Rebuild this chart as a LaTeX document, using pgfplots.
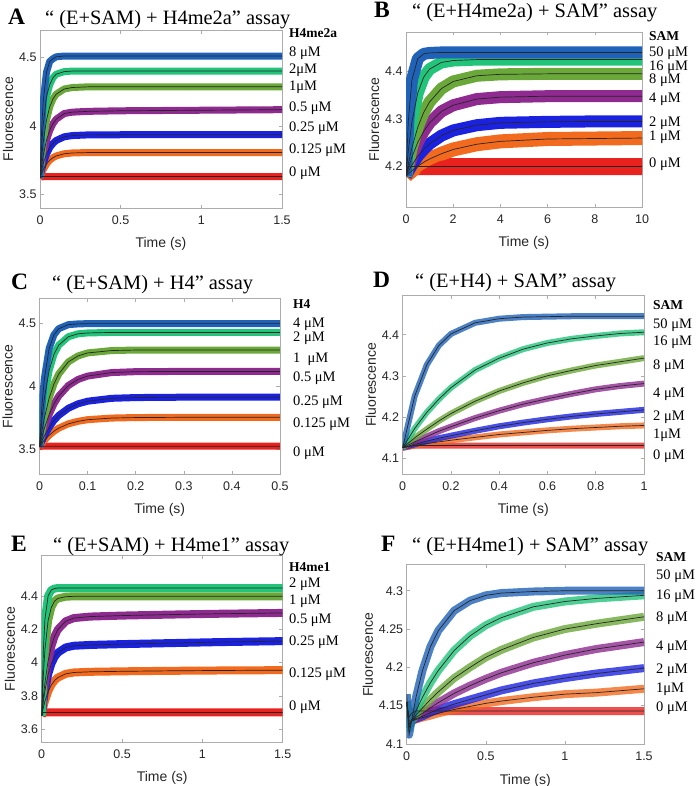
\documentclass[border=0pt]{standalone}
\usepackage{fontspec}
\setmainfont{Liberation Serif}
\setsansfont{Liberation Sans}
\usepackage{pgfplots}
\usepackage{pgfplotstable}
\pgfplotsset{compat=1.18}

\definecolor{cA}{HTML}{E8231F}
\definecolor{cB}{HTML}{F26A1E}
\definecolor{cC}{HTML}{1A22E0}
\definecolor{cD}{HTML}{8E2A90}
\definecolor{cE}{HTML}{6AA83A}
\definecolor{cF}{HTML}{22C47A}
\definecolor{cG}{HTML}{1F62B8}
\definecolor{tk}{HTML}{262626}

\pgfplotstableread{
t c0 c1 c2 c3 c4 c5 c6
0 3.62 3.62 3.62 3.62 3.62 3.62 3.62
0.01 3.63 3.653 3.677 3.710 3.768 3.85 3.97
0.02 3.63 3.680 3.724 3.784 3.882 4.01 4.18
0.04 3.63 3.721 3.794 3.893 4.041 4.21 4.39
0.06 3.63 3.749 3.841 3.967 4.138 4.30 4.47
0.08 3.63 3.767 3.871 4.015 4.196 4.35 4.49
0.1 3.63 3.780 3.893 4.048 4.231 4.377 4.504
0.15 3.63 3.796 3.920 4.090 4.269 4.396 4.51
0.2 3.63 3.802 3.929 4.100 4.280 4.40 4.51
0.3 3.63 3.805 3.934 4.106 4.285 4.40 4.51
0.5 3.63 3.805 3.935 4.110 4.285 4.40 4.51
1.0 3.63 3.805 3.935 4.114 4.285 4.40 4.51
1.5 3.63 3.805 3.935 4.118 4.285 4.40 4.51
}\tA

\pgfplotstableread{
t c0 c1 c2 c3 c4 c5 c6
0 4.18 4.18 4.18 4.18 4.18 4.18 4.18
0.1 4.20 4.185 4.190 4.197 4.206 4.234 4.297
0.25 4.20 4.191 4.203 4.220 4.240 4.294 4.382
0.5 4.20 4.201 4.222 4.251 4.283 4.355 4.427
0.75 4.20 4.209 4.236 4.274 4.314 4.388 4.437
1 4.20 4.216 4.248 4.292 4.336 4.405 4.439
1.5 4.20 4.227 4.265 4.316 4.364 4.419 4.44
2 4.20 4.236 4.276 4.329 4.379 4.423 4.44
3 4.20 4.247 4.287 4.342 4.391 4.425 4.44
4 4.20 4.253 4.292 4.346 4.394 4.425 4.44
6 4.20 4.258 4.294 4.348 4.395 4.425 4.44
8 4.20 4.259 4.295 4.348 4.395 4.425 4.44
10 4.20 4.26 4.295 4.348 4.395 4.425 4.44
}\tB

\pgfplotstableread{
t c0 c1 c2 c3 c4 c5 c6
0 3.52 3.52 3.52 3.52 3.52 3.52 3.52
0.005 3.525 3.548 3.567 3.599 3.644 3.738 3.843
0.01 3.525 3.572 3.607 3.666 3.747 3.905 4.060
0.02 3.525 3.612 3.675 3.777 3.907 4.127 4.302
0.03 3.525 3.644 3.729 3.861 4.020 4.255 4.411
0.04 3.525 3.669 3.770 3.924 4.100 4.329 4.460
0.06 3.525 3.703 3.827 4.008 4.196 4.396 4.492
0.08 3.525 3.723 3.862 4.056 4.243 4.419 4.498
0.1 3.525 3.736 3.883 4.083 4.267 4.426 4.50
0.15 3.525 3.749 3.906 4.111 4.286 4.43 4.50
0.2 3.525 3.753 3.912 4.118 4.29 4.43 4.50
0.3 3.525 3.755 3.915 4.12 4.29 4.43 4.50
0.5 3.525 3.755 3.915 4.12 4.29 4.43 4.50
}\tC

\pgfplotstableread{
t c0 c1 c2 c3 c4 c5 c6
0 4.125 4.125 4.125 4.125 4.125 4.125 4.125
0.05 4.13 4.130 4.133 4.139 4.149 4.172 4.251
0.1 4.13 4.135 4.141 4.152 4.170 4.211 4.327
0.15 4.13 4.139 4.148 4.165 4.190 4.243 4.374
0.2 4.13 4.143 4.154 4.176 4.208 4.271 4.402
0.3 4.13 4.150 4.166 4.197 4.238 4.314 4.429
0.4 4.13 4.157 4.177 4.215 4.263 4.343 4.439
0.5 4.13 4.162 4.186 4.231 4.283 4.365 4.443
0.6 4.13 4.167 4.194 4.244 4.300 4.380 4.444
0.7 4.13 4.171 4.201 4.256 4.313 4.390 4.445
0.8 4.13 4.174 4.207 4.267 4.325 4.397 4.445
0.9 4.13 4.177 4.212 4.275 4.334 4.403 4.445
1.0 4.13 4.179 4.217 4.281 4.343 4.406 4.445
}\tD

\pgfplotstableread{
t c0 c1 c2 c3 c4 c5
0 3.68 3.68 3.68 3.68 3.68 3.68
0.01 3.70 3.728 3.764 3.789 3.918 4.067
0.02 3.70 3.768 3.831 3.878 4.077 4.260
0.04 3.70 3.826 3.930 4.011 4.255 4.403
0.06 3.70 3.866 3.993 4.099 4.334 4.438
0.08 3.70 3.892 4.034 4.159 4.371 4.447
0.1 3.70 3.910 4.060 4.199 4.387 4.45
0.15 3.70 3.933 4.092 4.250 4.398 4.45
0.2 3.70 3.941 4.102 4.269 4.40 4.45
0.3 3.70 3.945 4.107 4.278 4.40 4.45
0.5 3.70 3.948 4.112 4.284 4.40 4.45
0.8 3.70 3.951 4.118 4.29 4.40 4.45
1.1 3.70 3.953 4.124 4.295 4.40 4.45
1.5 3.70 3.955 4.13 4.30 4.40 4.45
}\tE

\pgfplotstableread{
t c0 c1 c2 c3 c4 c5 c6
0 4.155 4.155 4.155 4.155 4.155 4.155 4.165
0.015 4.135 4.13 4.125 4.125 4.125 4.12 4.112
0.03 4.14 4.13 4.13 4.13 4.13 4.13 4.13
0.06 4.143 4.132 4.133 4.135 4.138 4.144 4.162
0.1 4.143 4.1345 4.136 4.140 4.147 4.161 4.196
0.15 4.143 4.137 4.141 4.147 4.158 4.180 4.227
0.2 4.143 4.140 4.145 4.154 4.168 4.196 4.248
0.3 4.143 4.145 4.152 4.166 4.186 4.222 4.274
0.4 4.143 4.149 4.158 4.176 4.200 4.241 4.287
0.5 4.143 4.153 4.164 4.185 4.213 4.255 4.294
0.6 4.143 4.156 4.170 4.193 4.223 4.265 4.297
0.8 4.143 4.161 4.179 4.206 4.239 4.279 4.299
1.0 4.143 4.165 4.186 4.216 4.250 4.286 4.30
1.2 4.143 4.167 4.192 4.224 4.257 4.290 4.30
1.5 4.143 4.172 4.199 4.233 4.266 4.294 4.30
}\tF

\pgfplotsset{
  panel/.style={
    scale only axis, anchor=south west,
    axis line style={gray!65, line width=0.6pt},
    tick style={gray!65, line width=0.5pt},
    tick align=inside, major tick length=3.5pt,
    xtick pos=both, ytick pos=both,
    /pgf/number format/assume math mode=true,
    ticklabel style={font=\sffamily\fontsize{12.5}{13}\selectfont, text=tk},
    xticklabel style={yshift=-4pt},
    label style={font=\sffamily\fontsize{14}{15}\selectfont, text=tk},
    xlabel={Time (s)}, ylabel={Fluorescence},
    xlabel style={yshift=-6pt},
    ylabel style={yshift=-1pt},
    xmin=0,
  },
  band/.style={no markers, line width=#1, line join=round},
  fit/.style={no markers, line width=0.7pt, black!85},
}

\newcommand{\bands}[4]{% table, width, number of series (6 or 7), opacity
  \addplot[band=#2, cA, opacity=#4] table[x=t,y=c0]{#1};
  \addplot[band=#2, cB, opacity=#4] table[x=t,y=c1]{#1};
  \addplot[band=#2, cC, opacity=#4] table[x=t,y=c2]{#1};
  \addplot[band=#2, cD, opacity=#4] table[x=t,y=c3]{#1};
  \addplot[band=#2, cE, opacity=#4] table[x=t,y=c4]{#1};
  \addplot[band=#2, cF, opacity=#4] table[x=t,y=c5]{#1};
  \ifnum#3=7 \addplot[band=#2, cG, opacity=#4] table[x=t,y=c6]{#1};\fi
  \addplot[fit] table[x=t,y=c0]{#1};
  \addplot[fit] table[x=t,y=c1]{#1};
  \addplot[fit] table[x=t,y=c2]{#1};
  \addplot[fit] table[x=t,y=c3]{#1};
  \addplot[fit] table[x=t,y=c4]{#1};
  \addplot[fit] table[x=t,y=c5]{#1};
  \ifnum#3=7 \addplot[fit] table[x=t,y=c6]{#1};\fi
}
\newcommand{\lab}[3]{\node[anchor=west, inner sep=0pt] at (#1pt,-#2pt) {\fontsize{14.5}{15}\selectfont #3};}
\newcommand{\blab}[3]{\node[anchor=west, inner sep=0pt] at (#1pt,-#2pt) {\fontsize{13.5}{15}\selectfont\bfseries #3};}
\newcommand{\ttl}[5]{%
  \node[anchor=base west, inner sep=0pt] at (#1pt,-#3pt) {\fontsize{23.5}{24}\selectfont\bfseries #2};
  \node[anchor=base west, inner sep=0pt] at (#4pt,-#3pt) {\fontsize{20.4}{21}\selectfont #5};}

\begin{document}
\begin{tikzpicture}
\path[use as bounding box] (0,0) rectangle (700pt,-786pt);

% ---------- A ----------
\begin{axis}[panel, at={(40pt,-208pt)}, width=242pt, height=178pt,
  xmax=1.5, ymin=3.4, ymax=4.7, xtick={0,0.5,1,1.5}, ytick={3.5,4,4.5}]
\bands{\tA}{7pt}{7}{1}
\end{axis}
% ---------- B ----------
\begin{axis}[panel, at={(406pt,-207pt)}, width=236pt, height=175pt,
  xmax=10, ymin=4.115, ymax=4.483, xtick={0,2,4,6,8,10}, ytick={4.2,4.3,4.4}]
\addplot[band=17pt, cA] table[x=t,y=c0]{\tB};
\addplot[band=14pt, cB] table[x=t,y=c1]{\tB};
\bands{\tB}{12pt}{7}{1}
\end{axis}
% ---------- C ----------
\begin{axis}[panel, at={(39.5pt,-474.5pt)}, width=240.5pt, height=176pt,
  xmax=0.5, ymin=3.3, ymax=4.7, xtick={0,0.1,0.2,0.3,0.4,0.5}, ytick={3.5,4,4.5}]
\bands{\tC}{7pt}{7}{1}
\end{axis}
% ---------- D ----------
\begin{axis}[panel, at={(402.7pt,-474.3pt)}, width=241.3pt, height=179pt,
  xmax=1, ymin=4.06, ymax=4.496, xtick={0,0.2,0.4,0.6,0.8,1}, ytick={4.1,4.2,4.3,4.4}]
\bands{\tD}{6pt}{7}{0.8}
\end{axis}
% ---------- E ----------
\begin{axis}[panel, at={(41.7pt,-742.3pt)}, width=241pt, height=186.6pt,
  xmax=1.5, ymin=3.52, ymax=4.645, xtick={0,0.5,1,1.5}, ytick={3.6,3.8,4,4.2,4.4}]
\bands{\tE}{8pt}{6}{1}
\end{axis}
% ---------- F ----------
\begin{axis}[panel, at={(406.7pt,-744.7pt)}, width=237.3pt, height=180pt,
  xmax=1.5, ymin=4.099, ymax=4.334, xtick={0,0.5,1,1.5}, ytick={4.1,4.15,4.2,4.25,4.3},
  yticklabel style={/pgf/number format/.cd, fixed, precision=2}]
\bands{\tF}{8pt}{7}{0.8}
\end{axis}

% ---------- titles ----------
\ttl{8}{A}{25}{45}{“ (E+SAM) + H4me2a” assay}
\ttl{374}{B}{18}{412}{“ (E+H4me2a) + SAM” assay}
\ttl{11}{C}{289}{52}{“ (E+SAM) + H4” assay}
\ttl{373}{D}{287}{415}{“ (E+H4) + SAM” assay}
\ttl{11}{E}{551}{53}{“ (E+SAM) + H4me1” assay}
\ttl{381}{F}{551}{412}{“ (E+H4me1) + SAM” assay}

% ---------- right labels A ----------
\blab{289}{33}{H4me2a}
\lab{289}{53}{8 μM}
\lab{289}{70}{2μM}
\lab{289}{87}{1μM}
\lab{289}{108}{0.5 μM}
\lab{289}{128}{0.25 μM}
\lab{289}{150}{0.125 μM}
\lab{289}{173}{0 μM}
% B
\blab{649}{36}{SAM}
\lab{649}{53}{50 μM}
\lab{649}{67}{16 μM}
\lab{649}{80}{8 μM}
\lab{649}{99}{4 μM}
\lab{649}{123}{2 μM}
\lab{649}{137}{1 μM}
\lab{649}{164}{0 μM}
% C
\blab{293}{304}{H4}
\lab{293}{324}{4 μM}
\lab{293}{338}{2 μM}
\lab{293}{359}{1 \ μM}
\lab{293}{378}{0.5 μM}
\lab{293}{402}{0.25 μM}
\lab{293}{424}{0.125 μM}
\lab{293}{453}{0 μM}
% D
\blab{653}{305}{SAM}
\lab{653}{325}{50 μM}
\lab{653}{342}{16 μM}
\lab{653}{366}{8 μM}
\lab{653}{394}{4 μM}
\lab{653}{417}{2 μM}
\lab{653}{435}{1μM}
\lab{653}{456}{0 μM}
% E
\blab{289}{567}{H4me1}
\lab{289}{584}{2 μM}
\lab{289}{601}{1 μM}
\lab{289}{620}{0.5 μM}
\lab{289}{642}{0.25 μM}
\lab{289}{674}{0.125 μM}
\lab{289}{707}{0 μM}
% F
\blab{656}{557}{SAM}
\lab{656}{576}{50 μM}
\lab{656}{596}{16 μM}
\lab{656}{618}{8 μM}
\lab{656}{647}{4 μM}
\lab{656}{670}{2 μM}
\lab{656}{689}{1μM}
\lab{656}{708}{0 μM}
\end{tikzpicture}
\end{document}
